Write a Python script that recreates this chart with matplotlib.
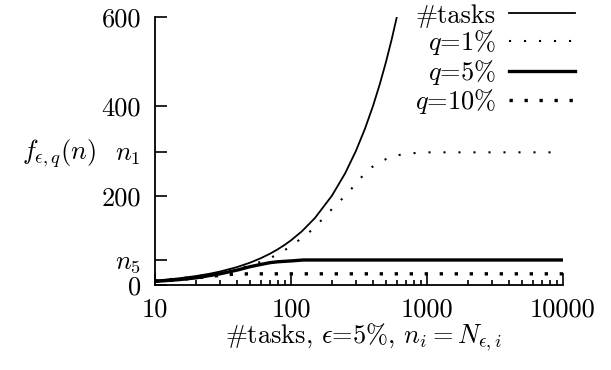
import matplotlib
matplotlib.use('Agg')
import matplotlib.pyplot as plt

plt.rcParams['font.family'] = 'cmr10'
plt.rcParams['mathtext.fontset'] = 'cm'
plt.rcParams['axes.unicode_minus'] = False
plt.rcParams['lines.scale_dashes'] = False

# ── data ──────────────────────────────────────────────────────────────────
tasks_n = [10, 12, 15, 20, 25, 30, 40, 50, 60, 70, 80, 90, 100, 120, 150,
           200, 250, 300, 350, 400, 450, 500, 550, 600]
tasks_f = [10, 12, 15, 20, 25, 30, 40, 50, 60, 70, 80, 90, 100, 120, 150,
           200, 250, 300, 350, 400, 450, 500, 550, 600]

q1_n = [10, 20, 30, 40, 50, 60, 70, 87, 105, 126, 149, 173, 203, 236, 276,
        320, 375, 451, 556, 689, 850, 1000, 10000]
q1_f = [10, 19, 28, 36, 44, 52, 60, 75, 92, 110, 128, 150, 172, 192, 214,
        237, 260, 275, 289, 293, 296, 297, 297]

q5_n = [10, 15, 20, 30, 41, 50, 60, 70, 80, 101, 123, 10000]
q5_f = [8, 12, 16, 25, 34, 41, 46, 50, 52, 54, 56, 56]

q10_n = [10, 15, 20, 25, 30, 35, 40, 50, 10000]
q10_f = [8, 12, 16, 19, 21.5, 23.5, 24.5, 25, 25]

y_ticks = [0, 56, 200, 297, 400, 600]
y_ticklabels = ['0', '$n_5$', '200', '$n_1$', '400', '600']
x_ticks = [10, 100, 1000, 10000]
x_ticklabels = ['10', '100', '1000', '10000']

FS = 19

fig = plt.figure(figsize=(6.11, 3.70), dpi=100)
ax = fig.add_axes([155 / 611, 1 - 285 / 370, 408 / 611, 268 / 370])

ax.plot(tasks_n, tasks_f, color='black', lw=1.3, label='#tasks')
ax.plot(q1_n, q1_f, color='black', lw=1.5, linestyle=(0, (1.5, 9.3)),
        label='$q$=1%')
ax.plot(q5_n, q5_f, color='black', lw=2.4, label='$q$=5%')
ax.plot(q10_n, q10_f, color='black', lw=2.4, linestyle=(0, (2.4, 8.4)),
        label='$q$=10%')

ax.set_xscale('log')
ax.set_xlim(10, 10000)
ax.set_ylim(0, 600)

ax.set_xticks(x_ticks)
ax.set_xticklabels(x_ticklabels)
ax.set_yticks(y_ticks)
ax.set_yticklabels(y_ticklabels)

for side in ('top', 'right'):
    ax.spines[side].set_visible(False)
for side in ('left', 'bottom'):
    ax.spines[side].set_linewidth(1.3)

ax.tick_params(axis='both', which='major', direction='in', length=8.6,
               width=1.2, labelsize=FS)
ax.tick_params(axis='x', which='minor', direction='in', length=3.6, width=1.2)
ax.tick_params(axis='x', which='major', pad=9)
ax.tick_params(axis='y', which='major', pad=10)

ax.set_xlabel('#tasks, $\\epsilon$=5%, $n_i = N_{\\epsilon,i}$', fontsize=FS,
              va='center')
ax.xaxis.set_label_coords(0.51, -0.195)
ax.set_ylabel('$f_{\\epsilon,q}(n)$', fontsize=FS, rotation=0,
              ha='center', va='center')
ax.yaxis.set_label_coords(-0.235, 0.49)

ax.legend(loc='upper right', bbox_to_anchor=(575 / 611, 366 / 370),
          bbox_transform=fig.transFigure, frameon=False, markerfirst=False,
          fontsize=FS, handlelength=2.5, handletextpad=0.5,
          labelspacing=0.02, borderpad=0.0, borderaxespad=0.0)

fig.savefig('out.png', dpi=100, facecolor='white')
